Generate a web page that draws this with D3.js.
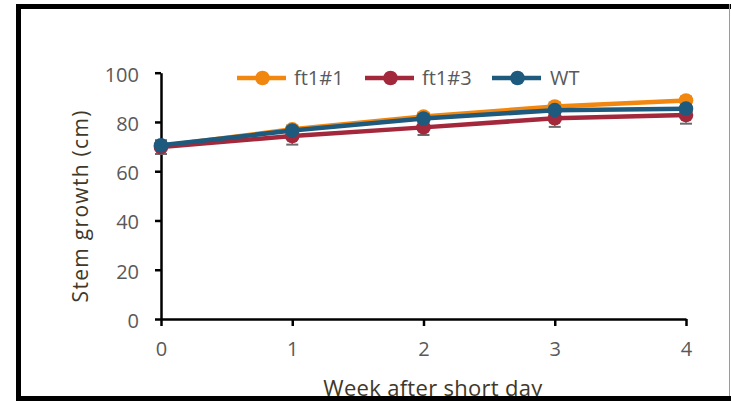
<!DOCTYPE html>
<html>
<head>
<meta charset="utf-8">
<script src="https://cdn.jsdelivr.net/npm/d3@7"></script>
<style>
  html, body { margin: 0; padding: 0; background: #fff; }
  svg { display: block; }
  text { font-family: "Open Sans", sans-serif; }
</style>
</head>
<body>
<div id="chart"></div>
<script>
// Stem growth after transfer to short days
const weeks = [0, 1, 2, 3, 4];
const seriesNames = ["ft1#1", "ft1#3", "WT"];
const ft1_1 = [70.2, 77.0, 82.2, 86.3, 88.7];
const ft1_3 = [69.8, 74.3, 77.8, 81.5, 82.8];
const wt    = [70.5, 76.5, 81.4, 84.8, 85.4];
const ft1_1Err = [1.2, 1.5, 1.5, 1.5, 1.5];
const ft1_3Err = [2.8, 3.5, 3.1, 3.5, 3.5];
const wtErr    = [1.2, 1.5, 1.5, 1.5, 1.5];
const yTicks = [0, 20, 40, 60, 80, 100];
const colors = ["#F2870F", "#A3283B", "#1D5A7E"];

const W = 731, H = 401;
const margin = { left: 161, right: 45, top: 72.7, bottom: 82 };

const svg = d3.select("#chart").append("svg")
  .attr("width", W).attr("height", H);

const x = d3.scaleLinear().domain([0, 4]).range([margin.left, W - margin.right]);
const y = d3.scaleLinear().domain([0, 100]).range([H - margin.bottom, margin.top]);

// Y axis
const yAxis = svg.append("g")
  .attr("transform", `translate(${margin.left},0)`)
  .call(d3.axisLeft(y).tickValues(yTicks).tickSize(6).tickPadding(16).tickSizeOuter(0));
yAxis.select(".domain").attr("stroke", "#000").attr("stroke-width", 2.5);
yAxis.selectAll(".tick line").attr("stroke", "#000").attr("stroke-width", 2.5);
yAxis.selectAll(".tick text")
  .attr("fill", "#595959").attr("font-size", 20).attr("dy", "0.42em")
  .style("font-family", "'Open Sans', sans-serif");

// X axis
const xAxis = svg.append("g")
  .attr("transform", `translate(0,${y(0)})`)
  .call(d3.axisBottom(x).tickValues(weeks).tickFormat(d3.format("d")).tickSize(7).tickPadding(16).tickSizeOuter(0));
xAxis.select(".domain").attr("stroke", "#000").attr("stroke-width", 2.5);
xAxis.selectAll(".tick line").attr("stroke", "#000").attr("stroke-width", 2.5);
xAxis.selectAll(".tick text")
  .attr("fill", "#595959").attr("font-size", 20)
  .style("font-family", "'Open Sans', sans-serif");

// Axis titles
svg.append("text")
  .attr("transform", `translate(88,${(y(0) + y(100)) / 2 + 10}) rotate(-90)`)
  .attr("text-anchor", "middle")
  .attr("fill", "#403828").attr("font-size", 21).attr("letter-spacing", 1.3)
  .text("Stem growth (cm)");

svg.append("text")
  .attr("x", 433).attr("y", 396)
  .attr("text-anchor", "middle")
  .attr("fill", "#403828").attr("font-size", 22).attr("letter-spacing", 0.3)
  .text("Week after short day");

// Series
const data = [
  { name: seriesNames[0], values: ft1_1, err: ft1_1Err, color: colors[0] },
  { name: seriesNames[1], values: ft1_3, err: ft1_3Err, color: colors[1] },
  { name: seriesNames[2], values: wt, err: wtErr, color: colors[2] }
];

const line = d3.line().x((d, i) => x(weeks[i])).y(d => y(d));
const plot = svg.append("g");

data.forEach(s => {
  const g = plot.append("g");
  // error bars
  s.values.forEach((v, i) => {
    const cx = x(weeks[i]);
    g.append("line")
      .attr("x1", cx).attr("x2", cx)
      .attr("y1", y(v - s.err[i])).attr("y2", y(v + s.err[i]))
      .attr("stroke", "#6b6b6b").attr("stroke-width", 1.5);
    [v - s.err[i], v + s.err[i]].forEach(e => {
      g.append("line")
        .attr("x1", cx - 6).attr("x2", cx + 6)
        .attr("y1", y(e)).attr("y2", y(e))
        .attr("stroke", "#6b6b6b").attr("stroke-width", 2);
    });
  });
  g.append("path")
    .attr("d", line(s.values))
    .attr("fill", "none").attr("stroke", s.color).attr("stroke-width", 4.5);
  g.selectAll("circle").data(s.values).join("circle")
    .attr("cx", (d, i) => x(weeks[i])).attr("cy", d => y(d))
    .attr("r", 7.3).attr("fill", s.color);
});

// Legend
const legendItems = [
  { x: 237, tx: 294 },
  { x: 365, tx: 422 },
  { x: 492, tx: 550 }
];
data.forEach((s, i) => {
  const li = legendItems[i];
  const ly = 78;
  svg.append("line")
    .attr("x1", li.x).attr("x2", li.x + 49).attr("y1", ly).attr("y2", ly)
    .attr("stroke", s.color).attr("stroke-width", 4.5);
  svg.append("circle")
    .attr("cx", li.x + 25.5).attr("cy", ly).attr("r", 7.3).attr("fill", s.color);
  svg.append("text")
    .attr("x", li.tx).attr("y", ly + 7)
    .attr("fill", "#595959").attr("font-size", 20)
    .text(s.name);
});

// Outer frame
svg.append("path")
  .attr("d", `M18.5,${H} V6.5 H${W}`)
  .attr("fill", "none").attr("stroke", "#000").attr("stroke-width", 5);
svg.append("rect")
  .attr("x", 16).attr("y", 396).attr("width", W - 16).attr("height", 5)
  .attr("fill", "#000");
svg.append("line")
  .attr("x1", 729.5).attr("x2", 729.5).attr("y1", 4).attr("y2", 396)
  .attr("stroke", "#9a9a9a").attr("stroke-width", 1);
</script>
</body>
</html>
